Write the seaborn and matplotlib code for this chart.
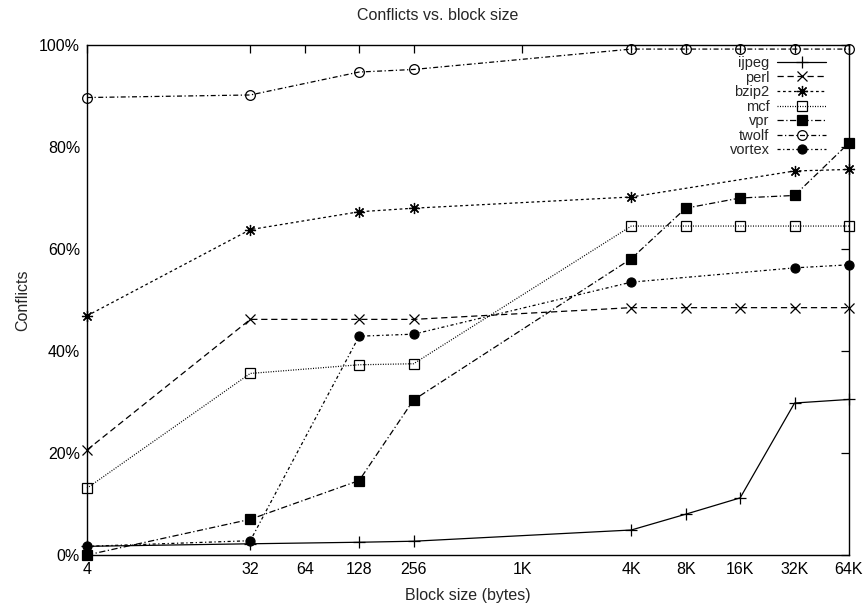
import matplotlib
matplotlib.use("Agg")
import matplotlib.pyplot as plt
import seaborn as sns
import pandas as pd

sns.set_theme(style="white")
plt.rcParams["font.family"] = ["Liberation Sans", "DejaVu Sans"]

# Data (x = block size in bytes, y = conflicts in %)
ijpeg_x = [4, 32, 128, 256, 4096, 8192, 16384, 32768, 65536]
ijpeg_y = [1.7, 2.2, 2.5, 2.7, 4.9, 8.0, 11.2, 29.8, 30.5]

perl_x = [4, 32, 128, 256, 4096, 8192, 16384, 32768, 65536]
perl_y = [20.6, 46.2, 46.2, 46.2, 48.5, 48.5, 48.5, 48.5, 48.5]

bzip2_x = [4, 32, 128, 256, 4096, 32768, 65536]
bzip2_y = [46.9, 63.8, 67.3, 68.0, 70.2, 75.3, 75.6]

mcf_x = [4, 32, 128, 256, 4096, 8192, 16384, 32768, 65536]
mcf_y = [13.1, 35.6, 37.3, 37.5, 64.5, 64.5, 64.5, 64.5, 64.5]

vpr_x = [4, 32, 128, 256, 4096, 8192, 16384, 32768, 65536]
vpr_y = [0.0, 7.0, 14.6, 30.4, 58.1, 68.0, 70.0, 70.5, 80.8]

twolf_x = [4, 32, 128, 256, 4096, 8192, 16384, 32768, 65536]
twolf_y = [89.7, 90.2, 94.7, 95.2, 99.2, 99.2, 99.2, 99.2, 99.2]

vortex_x = [4, 32, 128, 256, 4096, 32768, 65536]
vortex_y = [1.7, 2.8, 42.9, 43.3, 53.5, 56.3, 56.9]

xticks = [4, 32, 64, 128, 256, 1024, 4096, 8192, 16384, 32768, 65536]
xtick_labels = ["4", "32", "64", "128", "256", "1K", "4K", "8K", "16K", "32K", "64K"]
yticks = [0, 20, 40, 60, 80, 100]
ytick_labels = ["0%", "20%", "40%", "60%", "80%", "100%"]

series = [
    ("ijpeg", ijpeg_x, ijpeg_y, dict(linestyle="-", marker="+", markersize=8, mfc="black")),
    ("perl", perl_x, perl_y, dict(linestyle=(0, (5, 3)), marker="x", markersize=7, mfc="black")),
    ("bzip2", bzip2_x, bzip2_y, dict(linestyle=(0, (2.2, 2.2)), marker=(8, 2, 0), markersize=8, mfc="black")),
    ("mcf", mcf_x, mcf_y, dict(linestyle=(0, (0.8, 1.2)), marker="s", markersize=7, mfc="none")),
    ("vpr", vpr_x, vpr_y, dict(linestyle=(0, (5, 2, 1, 2)), marker="s", markersize=7, mfc="black")),
    ("twolf", twolf_x, twolf_y, dict(linestyle=(0, (4, 2, 1, 2)), marker="o", markersize=7, mfc="none")),
    ("vortex", vortex_x, vortex_y, dict(linestyle=(0, (2.5, 2, 1, 2)), marker="o", markersize=6.5, mfc="black")),
]

fig = plt.figure(figsize=(8.64, 6.07), dpi=100)
ax = fig.add_axes([87 / 864, 1 - 555 / 607, 762 / 864, 510 / 607])

for name, xs, ys, st in series:
    df = pd.DataFrame({"x": xs, "y": ys})
    sns.lineplot(data=df, x="x", y="y", ax=ax, color="black", linewidth=0.9,
                 markeredgecolor="black", markeredgewidth=0.9, label=name,
                 clip_on=False, **st)

ax.set_xscale("log", base=2)
ax.set_xlim(4, 65536)
ax.set_ylim(0, 100)
ax.set_xticks(xticks)
ax.set_xticklabels(xtick_labels)
ax.minorticks_off()
ax.set_yticks(yticks)
ax.set_yticklabels(ytick_labels)

ax.tick_params(axis="both", which="both", direction="in", length=6, width=0.9,
               top=True, right=True, labelsize=11.5, colors="black", pad=5)
for sp in ax.spines.values():
    sp.set_visible(True)
    sp.set_color("black")
    sp.set_linewidth(1.0)

ax.set_title("Conflicts vs. block size", fontsize=11.5, pad=18, x=0.46)
ax.set_xlabel("Block size (bytes)", fontsize=11.5, labelpad=8)
ax.set_ylabel("Conflicts", fontsize=11.5, labelpad=6)

leg = ax.legend(loc="upper right", frameon=False, markerfirst=False, fontsize=10.5,
                handlelength=3.4, handletextpad=0.5, labelspacing=0.04,
                borderaxespad=0.0, bbox_to_anchor=(0.978, 0.99))

fig.savefig("out.png", dpi=100)
